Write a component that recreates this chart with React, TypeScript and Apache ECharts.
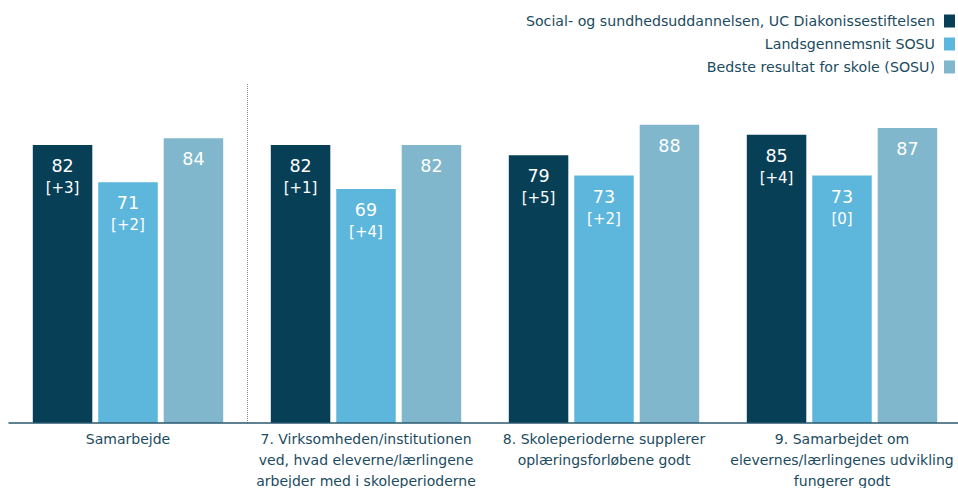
import React, { useEffect, useRef } from "react";
import * as echarts from "echarts";

const categories = [
  "Samarbejde",
  "7. Virksomheden/institutionen\nved, hvad eleverne/lærlingene\narbejder med i skoleperioderne",
  "8. Skoleperioderne supplerer\noplæringsforløbene godt",
  "9. Samarbejdet om\nelevernes/lærlingenes udvikling\nfungerer godt",
];
const seriesNames = [
  "Social- og sundhedsuddannelsen, UC Diakonissestiftelsen",
  "Landsgennemsnit SOSU",
  "Bedste resultat for skole (SOSU)",
];
const schoolValues = [82, 82, 79, 85];
const schoolDeltas = [3, 1, 5, 4];
const nationalValues = [71, 69, 73, 73];
const nationalDeltas = [2, 4, 2, 0];
const bestValues = [84, 82, 88, 87];
// section divider after the first category (boundary index)
const dividerPositions = [1];

const colors = ["#073f57", "#5db6dc", "#80b7cc"];
const textColor = "#1b4b60";

function fmtDelta(d: number) {
  return d > 0 ? `+${d}` : `${d}`;
}

export default function App() {
  const ref = useRef<HTMLDivElement>(null);
  useEffect(() => {
    if (!ref.current) return;
    const chart = echarts.init(ref.current, undefined, { renderer: "svg" });
    const rich = {
      v: { fontSize: 17.5, lineHeight: 22, color: "#ffffff", fontFamily: "DejaVu Sans" },
      d: { fontSize: 15, lineHeight: 22, color: "#ffffff", fontFamily: "DejaVu Sans" },
    };
    const mkLabel = (deltas?: number[]) => ({
      show: true,
      position: "insideTop",
      distance: 10,
      formatter: (p: any) =>
        deltas
          ? `{v|${p.value}}\n{d|[${fmtDelta(deltas[p.dataIndex])}]}`
          : `{v|${p.value}}`,
      rich,
    });
    chart.setOption({
      animation: false,
      textStyle: { fontFamily: "DejaVu Sans" },
      legend: {
        orient: "vertical",
        right: 3,
        top: 14,
        padding: 0,
        align: "right",
        itemWidth: 11,
        itemHeight: 13,
        itemGap: 9,
        icon: "rect",
        textStyle: {
          color: textColor,
          fontSize: 14.2,
          fontFamily: "DejaVu Sans",
          padding: [0, 4, 0, 0],
        },
        data: seriesNames,
      },
      grid: {
        left: 9,
        right: -3,
        top: 84,
        bottom: 65,
        outerBoundsMode: "none",
        containLabel: false,
      },
      xAxis: [
        {
          type: "category",
          data: categories,
          axisLine: { show: true, lineStyle: { color: "#2b5a70", width: 1.5 } },
          axisTick: { show: false },
          axisLabel: {
            interval: 0,
            color: textColor,
            fontSize: 14,
            lineHeight: 21,
            margin: 5,
            fontFamily: "DejaVu Sans",
          },
          splitLine: { show: false },
          z: 5,
        },
        {
          type: "value",
          min: 0,
          max: categories.length,
          show: false,
          splitLine: { show: false },
        },
      ],
      yAxis: {
        type: "value",
        min: 0,
        max: 100,
        show: false,
        splitLine: { show: false },
      },
      series: [
        {
          name: seriesNames[0],
          type: "bar",
          data: schoolValues,
          itemStyle: { color: colors[0] },
          barWidth: "25%",
          barGap: "10%",
          label: mkLabel(schoolDeltas),
        },
        {
          name: seriesNames[1],
          type: "bar",
          data: nationalValues,
          itemStyle: { color: colors[1] },
          barWidth: "25%",
          barGap: "10%",
          label: mkLabel(nationalDeltas),
        },
        {
          name: seriesNames[2],
          type: "bar",
          data: bestValues,
          itemStyle: { color: colors[2] },
          barWidth: "25%",
          barGap: "10%",
          label: mkLabel(),
        },
        {
          name: "divider",
          type: "scatter",
          xAxisIndex: 1,
          data: [],
          silent: true,
          markLine: {
            silent: true,
            symbol: "none",
            label: { show: false },
            lineStyle: { color: "#888888", type: "dotted", width: 1 },
            data: dividerPositions.map((x) => ({ xAxis: x })),
          },
        },
      ],
    });
    return () => chart.dispose();
  }, []);
  return <div ref={ref} style={{ width: 958, height: 488, position: "absolute", left: 0, top: 0 }} />;
}
